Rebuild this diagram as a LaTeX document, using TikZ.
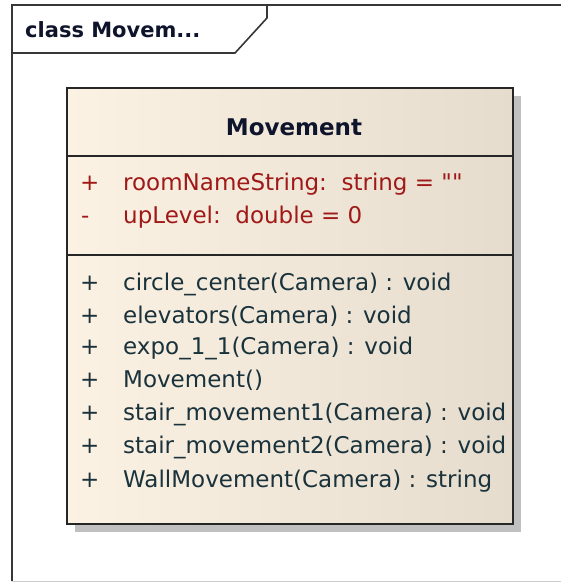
\documentclass[tikz,border=0pt]{standalone}
\usepackage{fontspec}
\setmainfont{DejaVu Sans}[Ligatures=TeXOff]
\definecolor{framegray}{RGB}{55,55,55}
\definecolor{attrred}{RGB}{160,25,25}
\definecolor{opteal}{RGB}{25,50,60}
\definecolor{titleink}{RGB}{15,20,45}
\definecolor{creamL}{RGB}{252,242,227}
\definecolor{creamR}{RGB}{229,220,205}
\definecolor{shadowgray}{RGB}{192,192,192}
\tikzset{
  x=1pt, y=-1pt,
  frameline/.style={draw=framegray, line width=1.6pt},
  classbox/.style={draw=black!85, line width=1.8pt},
  member/.style={anchor=base west, inner sep=0pt, font=\fontsize{23}{23}\selectfont},
  attr/.style={member, text=attrred},
  oper/.style={member, text=opteal}
}
\begin{document}
\begin{tikzpicture}
\useasboundingbox (0,0) rectangle (561,582);
% diagram frame and its name tab
\draw[frameline] (12,581) -- (12,5) -- (562,5);
\draw[draw=black!20, line width=1pt] (12,581) -- (562,581);
\draw[frameline] (12,53) -- (235,53) -- (267,18) -- (267,5);
\node[anchor=base west, inner sep=0pt, text=titleink, font=\fontsize{21}{21}\selectfont\bfseries] (tab) at (25,37) {class Movem...};
% class box with drop shadow
\fill[shadowgray] (75,96) rectangle (521,532);
\shade[left color=creamL, right color=creamR] (67,88) rectangle (513,524);
\draw[classbox] (67,88) rectangle (513,524);
\draw[classbox] (67,156) -- (513,156);
\draw[classbox] (67,255) -- (513,255);
\node[anchor=base, inner sep=0pt, text=titleink, font=\fontsize{23}{23}\selectfont\bfseries] (name) at (294,135) {Movement};
% attributes
\node[attr] (a1v) at (80,190) {+};
\node[attr] (a1) at (123,190) {roomNameString:\ \ string = \char34\char34};
\node[attr] (a2v) at (81,223) {-};
\node[attr] (a2) at (123,223) {upLevel:\ \ double = 0};
% operations
\foreach \y/\t [count=\i] in {290/{circle\_center(Camera) : void},
    323/{elevators(Camera) : void},
    354/{expo\_1\_1(Camera) : void},
    387/{Movement()},
    420/{stair\_movement1(Camera) : void},
    453/{stair\_movement2(Camera) : void},
    487/{WallMovement(Camera) : string}} {
  \node[oper] (o\i v) at (80,\y) {+};
  \node[oper] (o\i) at (123,\y) {\t};
}
\end{tikzpicture}
\end{document}
